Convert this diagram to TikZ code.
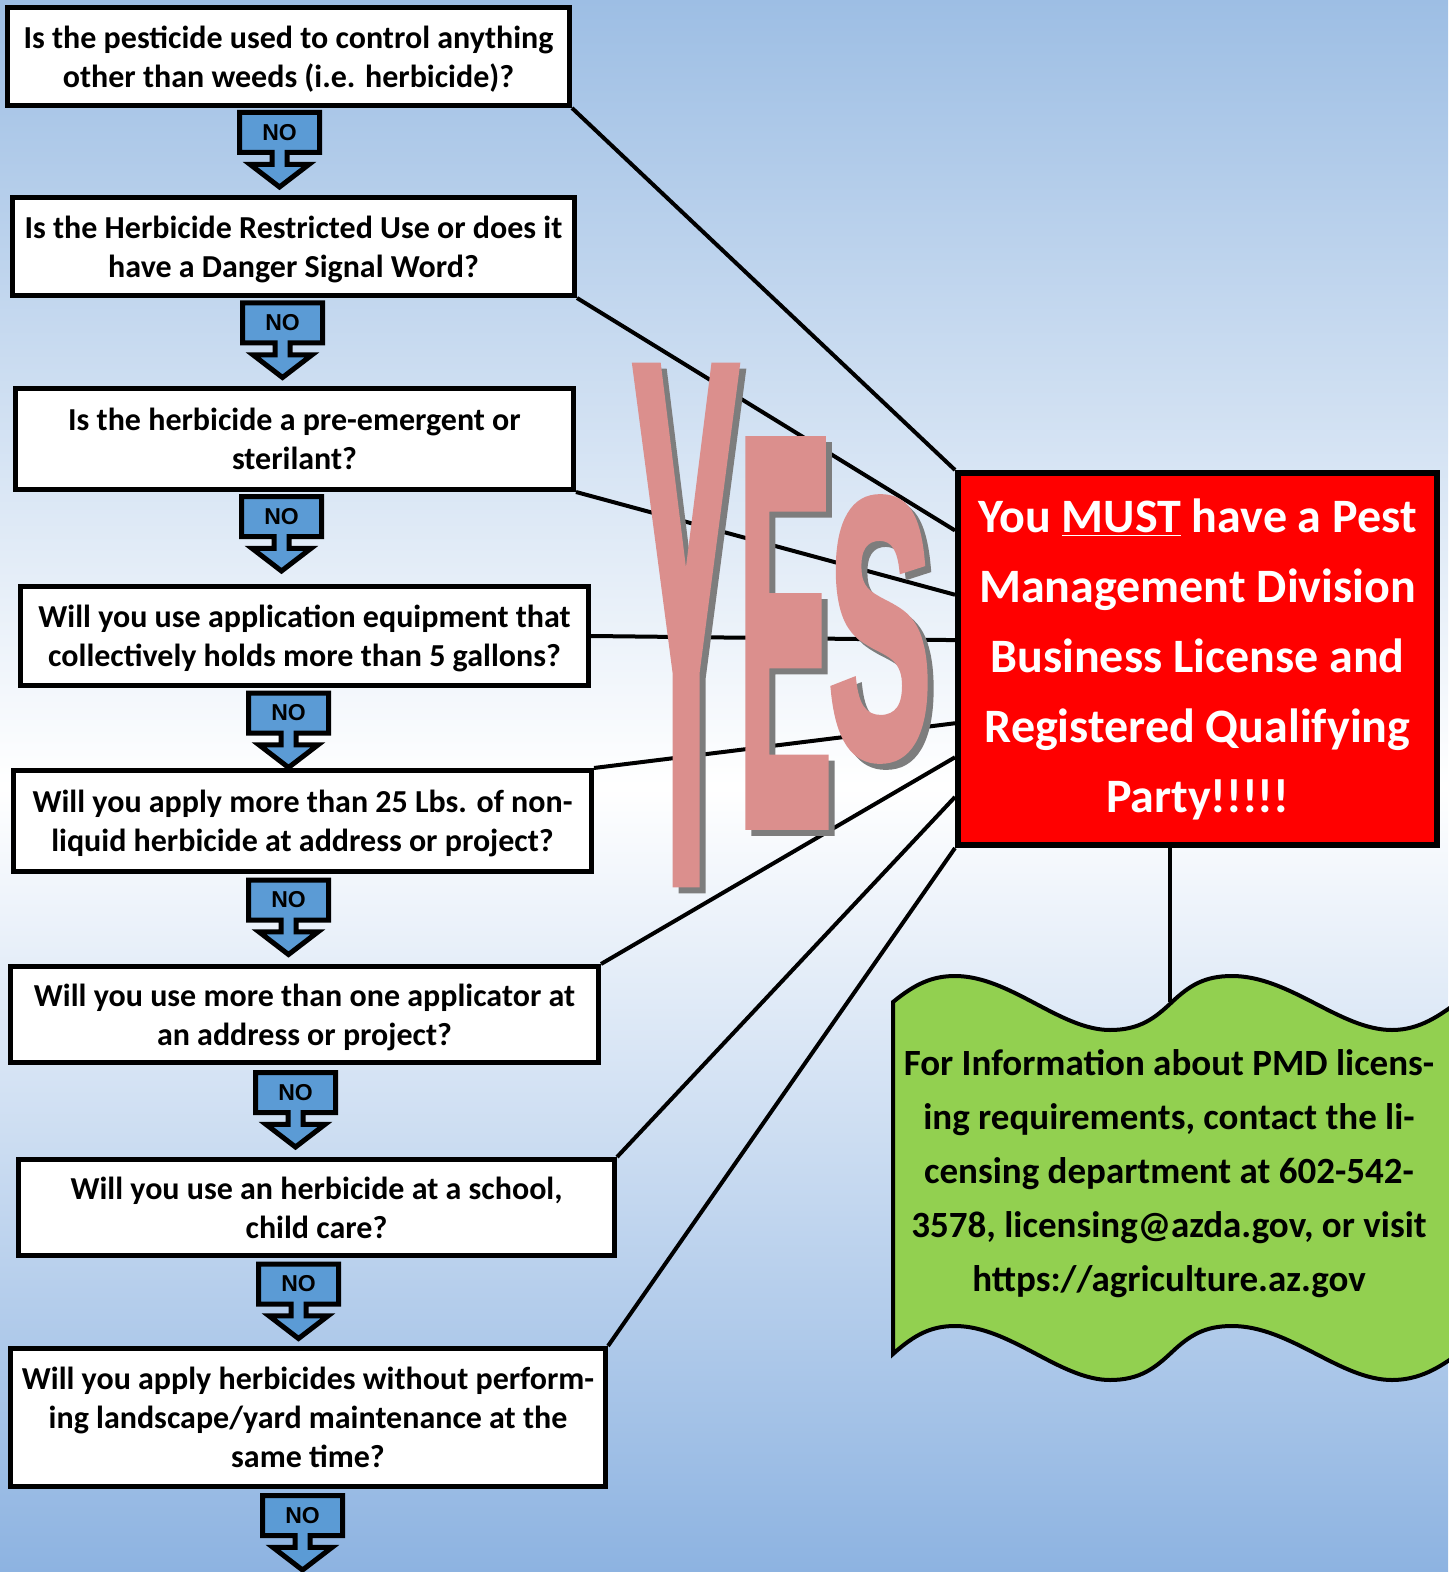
\documentclass[tikz,border=0pt]{standalone}
\usepackage{fontspec}
\setmainfont{Carlito}
\newfontfamily\nofont{Liberation Sans}
\newfontfamily\yesfont[FakeBold=2.5]{Liberation Sans}
\usetikzlibrary{shapes.arrows,calc}
\definecolor{bgtop}{RGB}{157,190,228}
\definecolor{bgbottom}{RGB}{141,179,225}
\definecolor{noblue}{RGB}{91,155,213}
\definecolor{signred}{RGB}{255,0,0}
\definecolor{infogreen}{RGB}{146,208,80}
\definecolor{yesred}{RGB}{219,143,141}
\definecolor{yesshadow}{RGB}{125,125,125}
\tikzset{
  question/.style={draw, line width=2.5pt, fill=white, align=center, inner sep=0pt,
    font=\bfseries\fontsize{16}{19.5}\selectfont, text depth=0pt},
  nobox/.style={arrow box, draw, line width=2.5pt, fill=noblue, inner sep=0pt,
    minimum width=40pt, minimum height=20pt, arrow box arrows={south:16pt},
    arrow box shaft width=7.5pt, arrow box head extend=11pt, arrow box tip angle=105,
    font=\nofont\bfseries\fontsize{11.5}{11.5}\selectfont},
  yesline/.style={line width=2pt},
  yesletter/.style={inner sep=0pt, text=yesred, font=\yesfont\bfseries\fontsize{80}{80}\selectfont}
}
\begin{document}
\begin{tikzpicture}[x=0.5pt,y=-0.5pt]
  \useasboundingbox (0,0) rectangle (1448,1572);
  \fill[top color=bgtop, bottom color=bgbottom, middle color=white] (0,0) rectangle (1448,1572);
  % questions
  \node[question, minimum width=281pt, minimum height=49pt] (q1) at (288.5,56.5)
    {Is the pesticide used to control anything\\other than weeds (i.e. herbicide)?};
  \node[question, minimum width=281pt, minimum height=49pt] (q2) at (293.5,246.5)
    {Is the Herbicide Restricted Use or does it\\have a Danger Signal Word?};
  \node[question, minimum width=279pt, minimum height=50.5pt] (q3) at (294.5,439)
    {Is the herbicide a pre-emergent or\\sterilant?};
  \node[question, minimum width=284pt, minimum height=49.5pt] (q4) at (304.5,636)
    {Will you use application equipment that\\collectively holds more than 5 gallons?};
  \node[question, minimum width=289pt, minimum height=50.5pt] (q5) at (302.5,821)
    {Will you apply more than 25 Lbs. of non-\\liquid herbicide at address or project?};
  \node[question, minimum width=294pt, minimum height=48pt] (q6) at (304.5,1014.5)
    {Will you use more than one applicator at\\an address or project?};
  \node[question, minimum width=298pt, minimum height=48pt, text depth=-4pt] (q7) at (316.5,1207.5)
    {Will you use an herbicide at a school,\\child care?};
  \node[question, minimum width=297.5pt, minimum height=69pt, text depth=-4pt] (q8) at (308,1417.5)
    {Will you apply herbicides without perform-\\ing landscape/yard maintenance at the\\same time?};
  % no arrows
  \foreach \n/\x/\y in {1/279.5/132.5, 2/282.5/323, 3/281.5/516.5, 4/288.5/713,
                        5/288.5/900, 6/295.5/1092.5, 7/298.5/1284, 8/302.5/1515.5}
    \node[nobox] (no\n) at (\x,\y) {NO};
  % must have
  \node[draw, line width=3pt, fill=signred, text=white, align=center, inner sep=0pt,
    minimum width=239.5pt, minimum height=186pt,
    font=\bfseries\fontsize{24}{35}\selectfont] (red) at (1197.5,659)
    {You \underline{MUST} have a Pest\\Management Division\\Business License and\\Registered Qualifying\\Party!!!!!};
  % info banner
  \draw[line width=2pt, fill=infogreen] (893,1002)
    .. controls (915,984) and (932,976) .. (955,976)
    .. controls (1010,976) and (1060,1030) .. (1110,1030)
    .. controls (1140,1030) and (1155,1018) .. (1172,1002)
    .. controls (1190,985) and (1205,976) .. (1232,976)
    .. controls (1290,976) and (1340,1030) .. (1392,1030)
    .. controls (1420,1030) and (1440,1015) .. (1458,1002)
    -- (1458,1354)
    .. controls (1440,1367) and (1420,1380) .. (1392,1380)
    .. controls (1340,1380) and (1290,1326) .. (1232,1326)
    .. controls (1205,1326) and (1190,1335) .. (1172,1352)
    .. controls (1155,1368) and (1140,1380) .. (1110,1380)
    .. controls (1060,1380) and (1010,1326) .. (955,1326)
    .. controls (932,1326) and (915,1334) .. (893,1354) -- cycle;
  \coordinate (wavetop) at (1170,1002);
  \node[align=center, inner sep=0pt, font=\bfseries\fontsize{18.5}{27}\selectfont] (info) at (1169,1174)
    {For Information about PMD licens-\\ing requirements, contact the li-\\censing department at 602-542-\\3578, licensing@azda.gov, or visit\\https://agriculture.az.gov};
  \draw[yesline] (wavetop |- red.south) -- (wavetop);
  % yes lines
  \foreach \q/\a/\f in {q1/south east/0, q2/south east/.16, q3/south east/.33, q4/east/.45,
                        q5/north east/.67, q6/north east/.76, q7/north east/.865, q8/north east/1}
    \draw[yesline] (\q.\a) -- ($(red.north west)!\f!(red.south west)$);
  % YES
  \foreach \l/\x/\y/\sx/\sy in {Y/686/625/1/4.6, E/785/633/.89/3.45, S/880/629/.97/2.3} {
    \node[yesletter, text=yesshadow, xscale=\sx, yscale=\sy] at (\x+6,\y+6) {\l};
    \node[yesletter, xscale=\sx, yscale=\sy] (yes\l) at (\x,\y) {\l};
  }
\end{tikzpicture}
\end{document}
